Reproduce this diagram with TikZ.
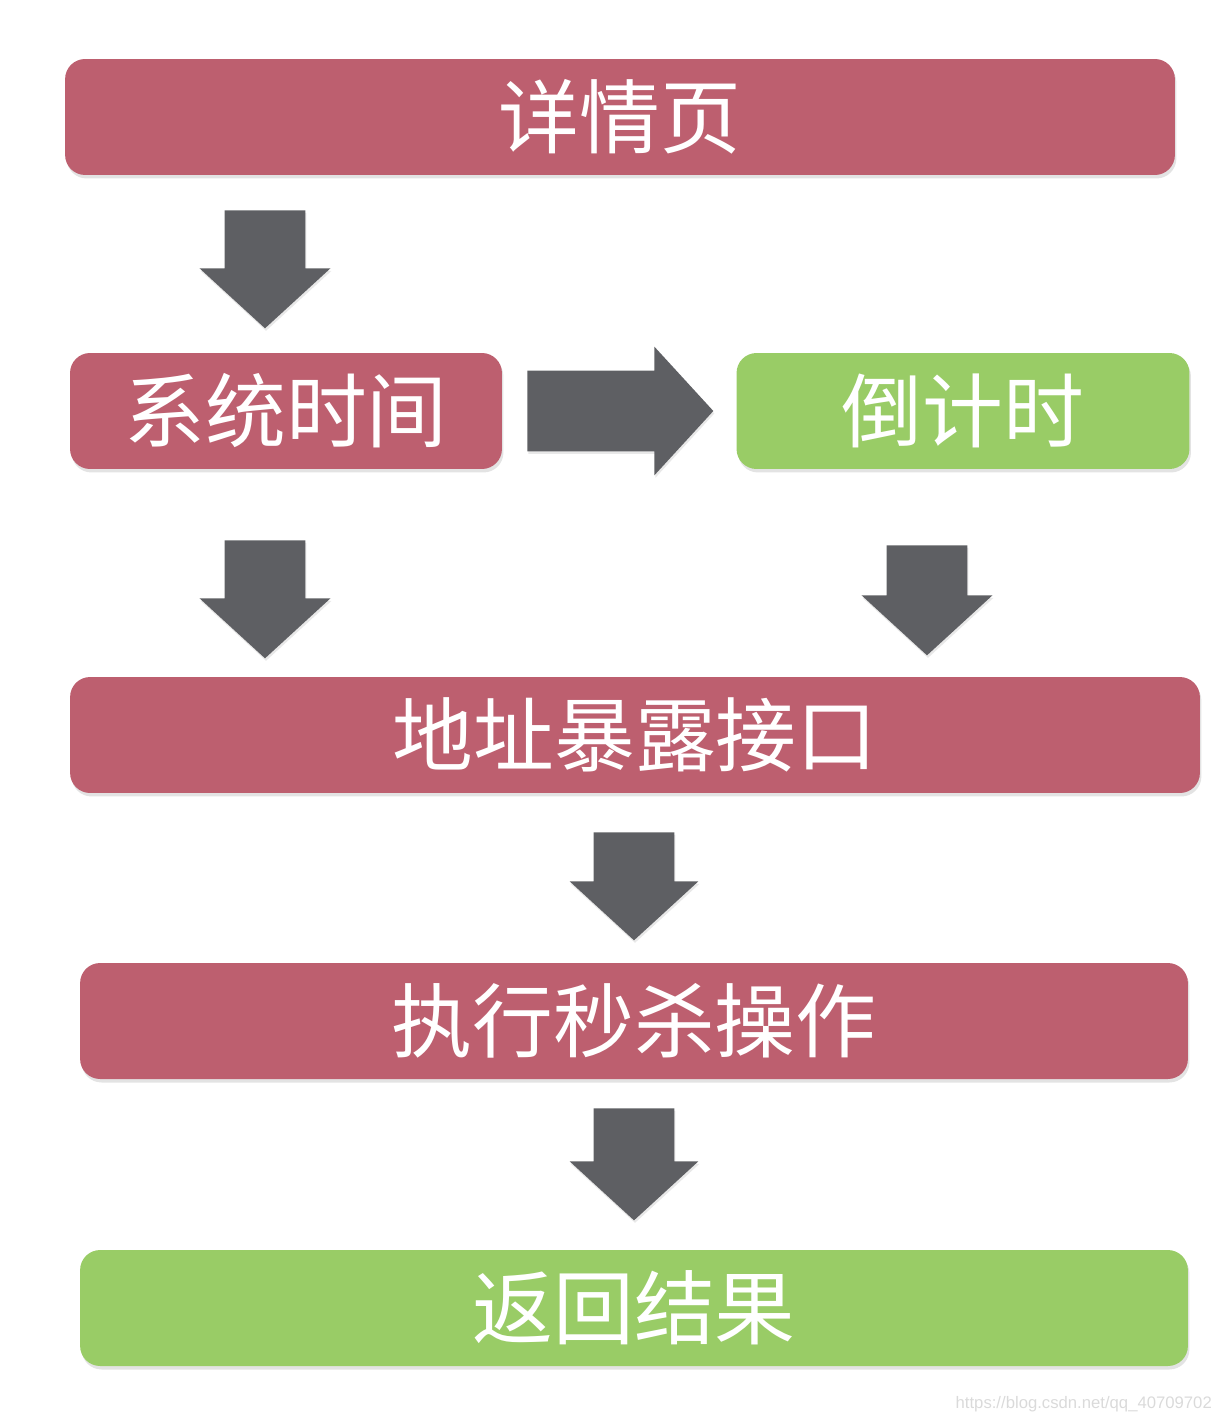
\documentclass[tikz,border=0pt]{standalone}
\usepackage{fontspec}
\newfontfamily\cjk{Noto Sans CJK SC}
\setsansfont{Liberation Sans}
\usetikzlibrary{shapes.arrows,shadows}
\definecolor{StepRed}{HTML}{BD5F6F}
\definecolor{StepGreen}{HTML}{99CC66}
\definecolor{ArrowGrey}{HTML}{5E5F63}
\definecolor{MarkGrey}{HTML}{DADADA}

\begin{document}
\begin{tikzpicture}[
    x=0.02cm, y=-0.02cm,
    stepbox/.style={
        rounded corners=4mm,
        minimum height=2.32cm,
        inner sep=0pt,
        text=white,
        font=\cjk\fontsize{46}{50}\selectfont,
        drop shadow={opacity=0.22, shadow xshift=0.03cm, shadow yshift=-0.07cm}
    },
    red step/.style={stepbox, fill=StepRed},
    green step/.style={stepbox, fill=StepGreen},
    block arrow/.style={
        single arrow, fill=ArrowGrey, anchor=tail,
        inner xsep=0pt, inner ysep=0.8cm,
        single arrow head extend=0.5cm,
        single arrow tip angle=95,
        drop shadow={opacity=0.18, shadow xshift=0.02cm, shadow yshift=-0.05cm}
    }
]
\useasboundingbox (0,0) rectangle (1226,1422);

% Steps
\node[red step, minimum width=22.2cm] (detail) at (620,117) {详情页};
\node[red step, minimum width=8.64cm] (systime) at (286,411) {系统时间};
\node[green step, minimum width=9.06cm] (countdown) at (963,411) {倒计时};
\node[red step, minimum width=22.6cm] (expose) at (635,735) {地址暴露接口};
\node[red step, minimum width=22.16cm] (kill) at (634,1021) {执行秒杀操作};
\node[green step, minimum width=22.16cm] (result) at (634,1308) {返回结果};

% Block arrows between the steps (placed by their tails)
\node[block arrow, minimum height=2.36cm, rotate=-90] (toSys) at (265,210) {};
\node[block arrow, minimum height=3.72cm, single arrow head extend=0.48cm] (toCount) at (527,411) {};
\node[block arrow, minimum height=2.36cm, rotate=-90] (sysDown) at (265,540) {};
\node[block arrow, minimum height=2.2cm, rotate=-90] (countDown) at (927,545) {};
\node[block arrow, minimum height=2.16cm, single arrow head extend=0.48cm, rotate=-90] (toKill) at (634,832) {};
\node[block arrow, minimum height=2.24cm, single arrow head extend=0.48cm, rotate=-90] (toResult) at (634,1108) {};

% Watermark
\node[anchor=east, font=\sffamily\fontsize{9.5}{11}\selectfont, text=MarkGrey] (mark) at (1218,1404)
    {https://blog.csdn.net/qq\_40709702};

\end{tikzpicture}
\end{document}
